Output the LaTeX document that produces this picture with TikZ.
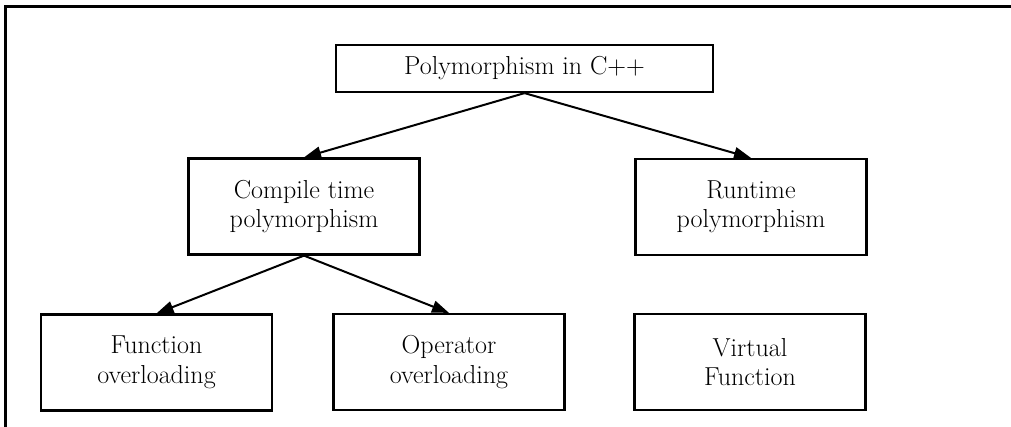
\documentclass[tikz,border=0pt]{standalone}
\usetikzlibrary{arrows.meta}
\begin{document}
\begin{tikzpicture}[x=1pt,y=-1pt,
		box/.style={draw, line width=2.2pt, align=center, inner sep=0pt,
			minimum width=231pt, minimum height=96pt,
			font=\fontsize{26}{29.5}\selectfont},
		link/.style={line width=2pt, -{Triangle[length=17pt,width=12pt]}}]
		\useasboundingbox (0,0) rectangle (1011,426);
		% frame
		\draw[line width=3pt] (5.5,430) -- (5.5,6) -- (1015,6);
		% nodes
		\node[box, minimum width=377pt, minimum height=47pt] (poly) at (524.5,68.5) {Polymorphism in C++};
		\node[box] (compile) at (304,206.5) {Compile time\\polymorphism};
		\node[box] (runtime) at (751,207) {Runtime\\polymorphism};
		\node[box] (funcov) at (156.5,362.5) {Function\\overloading};
		\node[box] (operov) at (449,362) {Operator\\overloading};
		\node[box] (virtfn) at (750,362) {Virtual\\Function};
		% arrows
		\draw[link] (poly.south) -- (compile.north);
		\draw[link] (poly.south) -- (runtime.north);
		\draw[link] (compile.south) -- (funcov.north);
		\draw[link] (compile.south) -- (operov.north);
	\end{tikzpicture}
\end{document}
